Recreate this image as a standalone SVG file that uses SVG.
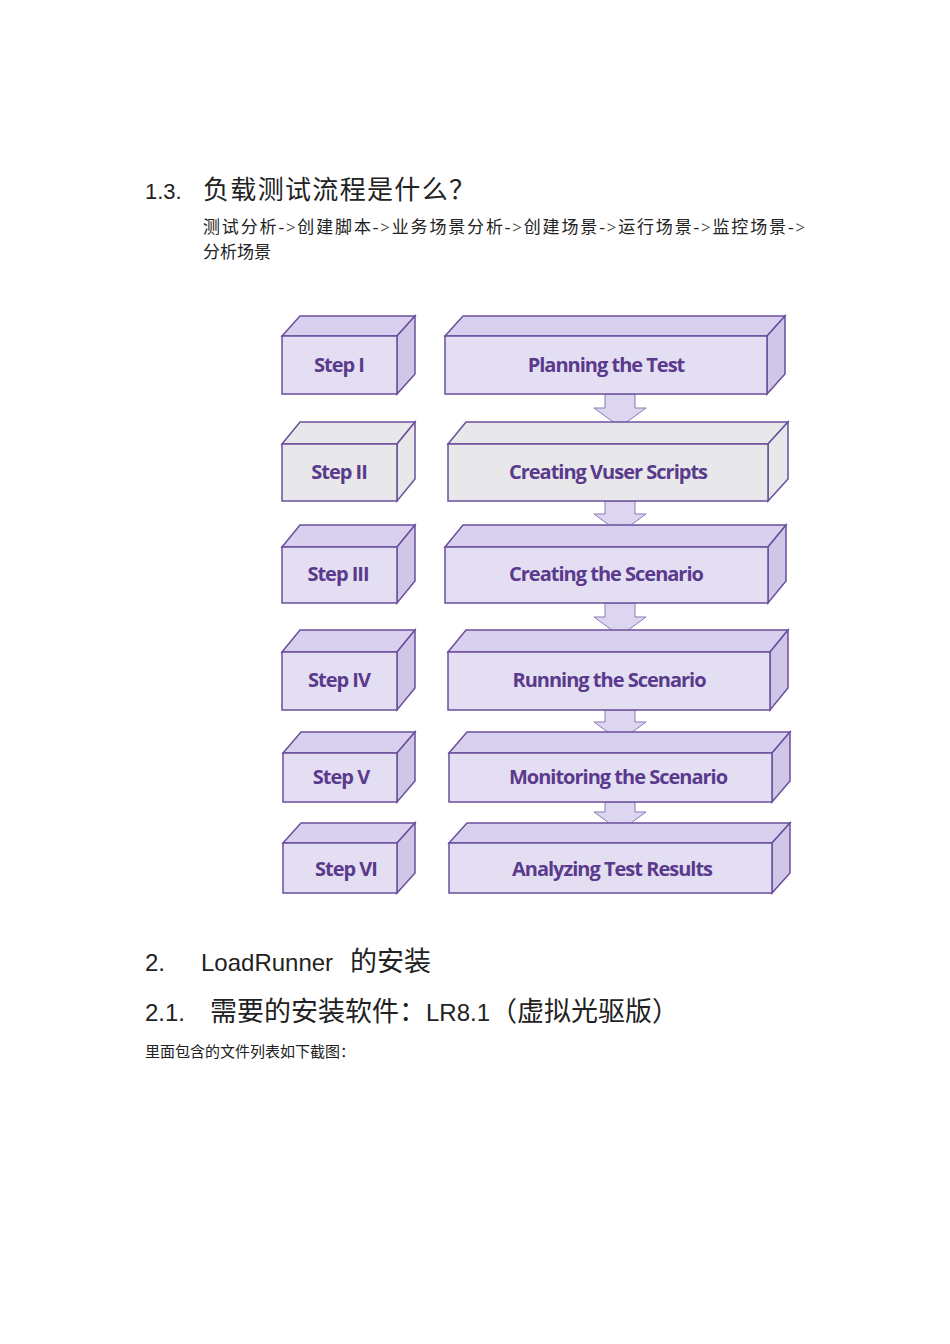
<svg xmlns="http://www.w3.org/2000/svg" width="950" height="1344" viewBox="0 0 950 1344">
<style>
.f{fill:#e4def3;stroke:#6a4f9c;stroke-width:1.5}
.t{fill:#d8d0ee;stroke:#6a4f9c;stroke-width:1.5}
.s{fill:#cfc6e8;stroke:#6a4f9c;stroke-width:1.5}
.g{fill:#e8e8ea}
.lb{font-family:"Open Sans","Liberation Sans",sans-serif;font-weight:bold;font-size:20px;fill:#5a3a8c;text-anchor:middle;letter-spacing:-1px}
.ar{fill:#ddd6f0;stroke:#8a78b8;stroke-width:1}
.h{font-family:"Liberation Serif","Noto Sans CJK SC",serif;fill:#222}
.l{font-family:"Liberation Sans",sans-serif}
</style>
<rect width="950" height="1344" fill="#fff"/>
<text class="h" y="199" font-size="26"><tspan class="l" x="145" font-size="22">1.3.</tspan><tspan x="203" textLength="272">负载测试流程是什么？</tspan></text>
<text class="h" x="203" y="233" font-size="17" textLength="602">测试分析-&gt;创建脚本-&gt;业务场景分析-&gt;创建场景-&gt;运行场景-&gt;监控场景-&gt;</text>
<text class="h" x="203" y="258" font-size="17">分析场景</text>
<g id="connectors">
<path class="ar" d="M605 394V408H594L620 427L646 408H635V394Z"/>
<path class="ar" d="M605 501V514H594L620 533L646 514H635V501Z"/>
<path class="ar" d="M605 603V617H594L620 636L646 617H635V603Z"/>
<path class="ar" d="M605 710V722H594L620 741L646 722H635V710Z"/>
<path class="ar" d="M605 802V812H594L620 831L646 812H635V802Z"/>
</g>
<g id="step1"><path class="t" d="M282 336L300 316H415L397 336Z"/><path class="s" d="M397 336L415 316V374L397 394Z"/><rect class="f" x="282" y="336" width="115" height="58"/><text class="lb" x="339" y="372">Step I</text></g>
<g id="plan"><path class="t" d="M445 336L463 316H785L767 336Z"/><path class="s" d="M767 336L785 316V374L767 394Z"/><rect class="f" x="445" y="336" width="322" height="58"/><text class="lb" x="606" y="372">Planning the Test</text></g>
<g id="step2"><path class="t g" d="M282 444L300 422H415L397 444Z"/><path class="s g" d="M397 444L415 422V479L397 501Z"/><rect class="f g" x="282" y="444" width="115" height="57"/><text class="lb" x="339" y="479">Step II</text></g>
<g id="scripts"><path class="t g" d="M448 444L466 422H788L768 444Z"/><path class="s g" d="M768 444L788 422V479L768 501Z"/><rect class="f g" x="448" y="444" width="320" height="57"/><text class="lb" x="608" y="479">Creating Vuser Scripts</text></g>
<g id="step3"><path class="t" d="M282 547L300 525H415L397 547Z"/><path class="s" d="M397 547L415 525V581L397 603Z"/><rect class="f" x="282" y="547" width="115" height="56"/><text class="lb" x="338" y="581">Step III</text></g>
<g id="scen"><path class="t" d="M445 547L463 525H786L768 547Z"/><path class="s" d="M768 547L786 525V581L768 603Z"/><rect class="f" x="445" y="547" width="323" height="56"/><text class="lb" x="606" y="581">Creating the Scenario</text></g>
<g id="step4"><path class="t" d="M282 652L300 630H415L397 652Z"/><path class="s" d="M397 652L415 630V688L397 710Z"/><rect class="f" x="282" y="652" width="115" height="58"/><text class="lb" x="339" y="687">Step IV</text></g>
<g id="run"><path class="t" d="M448 652L466 630H788L770 652Z"/><path class="s" d="M770 652L788 630V688L770 710Z"/><rect class="f" x="448" y="652" width="322" height="58"/><text class="lb" x="609" y="687">Running the Scenario</text></g>
<g id="step5"><path class="t" d="M283 753L301 732H415L397 753Z"/><path class="s" d="M397 753L415 732V781L397 802Z"/><rect class="f" x="283" y="753" width="114" height="49"/><text class="lb" x="341" y="784">Step V</text></g>
<g id="mon"><path class="t" d="M449 753L467 732H790L772 753Z"/><path class="s" d="M772 753L790 732V781L772 802Z"/><rect class="f" x="449" y="753" width="323" height="49"/><text class="lb" x="618" y="784">Monitoring the Scenario</text></g>
<g id="step6"><path class="t" d="M283 843L301 823H415L397 843Z"/><path class="s" d="M397 843L415 823V873L397 893Z"/><rect class="f" x="283" y="843" width="114" height="50"/><text class="lb" x="346" y="876">Step VI</text></g>
<g id="ana"><path class="t" d="M449 843L467 823H790L772 843Z"/><path class="s" d="M772 843L790 823V873L772 893Z"/><rect class="f" x="449" y="843" width="323" height="50"/><text class="lb" x="612" y="876">Analyzing Test Results</text></g>
<text class="h" y="971" font-size="27"><tspan class="l" x="145" font-size="24">2.</tspan><tspan class="l" x="201" font-size="24">LoadRunner</tspan><tspan x="350">的安装</tspan></text>
<text class="h" y="1021" font-size="27"><tspan class="l" x="145" font-size="24">2.1.</tspan><tspan x="210">需要的安装软件：</tspan><tspan class="l" font-size="24">LR8.1</tspan><tspan>（虚拟光驱版）</tspan></text>
<text class="h" x="145" y="1057" font-size="15">里面包含的文件列表如下截图：</text>
</svg>
